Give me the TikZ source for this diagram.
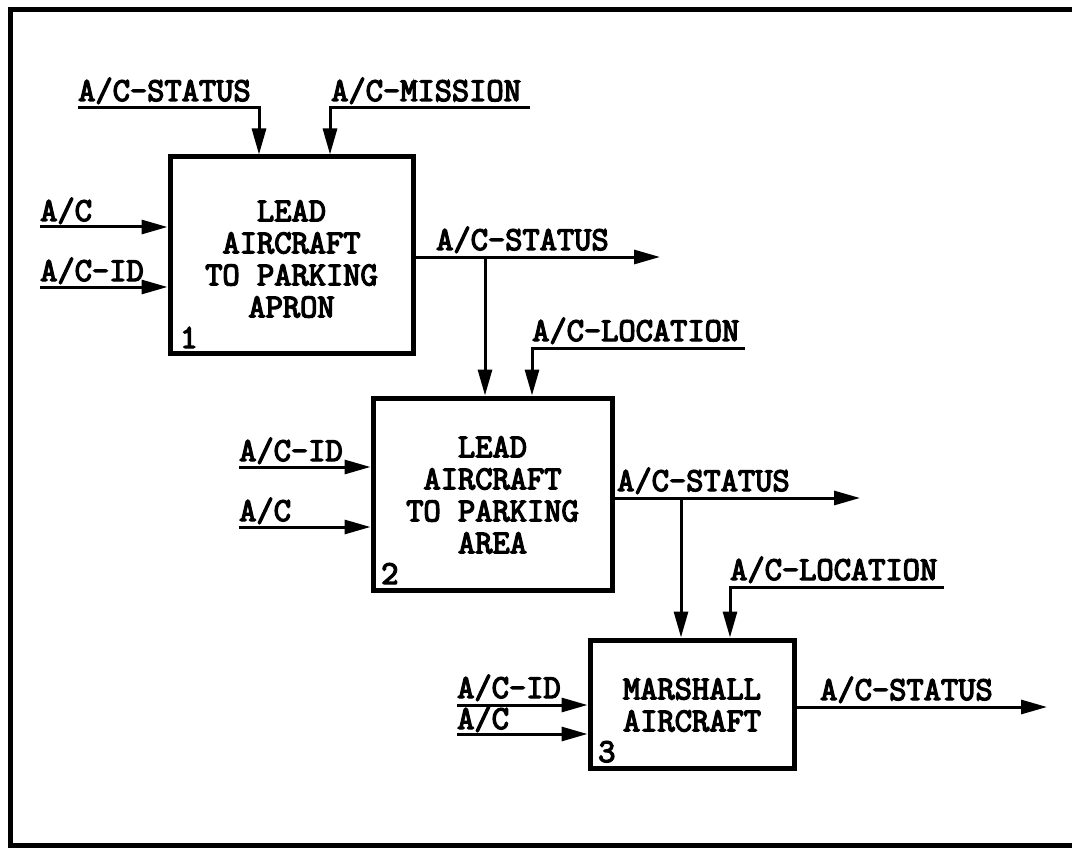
\documentclass[tikz,border=0pt]{standalone}
\usepackage{fontspec}
\newfontfamily\typew{Latin Modern Mono}[FakeBold=4]
\usetikzlibrary{arrows.meta}
\begin{document}
\begin{tikzpicture}[x=1pt,y=-1pt,
  lbl/.style={font=\typew\fontsize{33.5}{32}\selectfont, inner sep=0pt, anchor=base west},
  boxtxt/.style={font=\typew\fontsize{33.5}{32}\selectfont, align=center},
  fbox/.style={draw, line width=5pt, rectangle, inner sep=0pt},
  num/.style={font=\typew\fontsize{33.5}{32}\selectfont, inner sep=0pt, anchor=base west},
  arr/.style={line width=3pt, -{Triangle[length=26pt,width=14pt]}},
  frame/.style={line width=5pt, line cap=round}]
\useasboundingbox (0,0) rectangle (1072,848);
% frame
\coordinate (f1) at (1072,10);
\coordinate (f2) at (10,10);
\coordinate (f3) at (10,845);
\coordinate (f4) at (1072,845);
\draw[frame] (f1) -- (f2) -- (f3) -- (f4);

% boxes
\node[fbox, minimum width=243pt, minimum height=196pt] (b1) at (291.5,255) {};
\node[boxtxt] (t1) at (291.5,259) {LEAD\\AIRCRAFT\\TO PARKING\\APRON};
\node[num] (n1) at (180,348) {1};

\node[fbox, minimum width=239pt, minimum height=192pt] (b2) at (492.5,494) {};
\node[boxtxt] (t2) at (492.5,495) {LEAD\\AIRCRAFT\\TO PARKING\\AREA};
\node[num] (n2) at (381,584) {2};

\node[fbox, minimum width=204pt, minimum height=128pt] (b3) at (692,704) {};
\node[boxtxt] (t3) at (692,705) {MARSHALL\\AIRCRAFT};
\node[num] (n3) at (598,762) {3};

% ---- box 1 controls
\node[lbl] (l1s) at (78,101) {A/C-STATUS};
\coordinate (c1s) at (78,108);
\coordinate (x1s) at (259,0);
\draw[arr] (c1s) -| (b1.north -| x1s);
\node[lbl] (l1m) at (331,101) {A/C-MISSION};
\coordinate (c1m) at (530,108);
\coordinate (x1m) at (330,0);
\draw[arr] (c1m) -| (b1.north -| x1m);
% box 1 inputs
\node[lbl] (l1a) at (40,221) {A/C};
\coordinate (i1a) at (40,227);
\draw[arr] (i1a) -- (i1a -| b1.west);
\node[lbl] (l1i) at (40,281) {A/C-ID};
\coordinate (i1i) at (40,287);
\draw[arr] (i1i) -- (i1i -| b1.west);
% box 1 output
\coordinate (o1) at (660,257);
\node[lbl] (l1o) at (436,250) {A/C-STATUS};
\draw[arr] (o1 -| b1.east) -- (o1);
\coordinate (x2s) at (485,257);
\draw[arr] (x2s) -- (b2.north -| x2s);

% ---- box 2 control
\node[lbl] (l2l) at (532,341) {A/C-LOCATION};
\coordinate (c2l) at (745,348);
\coordinate (x2l) at (532,0);
\draw[arr] (c2l) -| (b2.north -| x2l);
% box 2 inputs
\node[lbl] (l2i) at (239,461) {A/C-ID};
\coordinate (i2i) at (239,467);
\draw[arr] (i2i) -- (i2i -| b2.west);
\node[lbl] (l2a) at (239,521) {A/C};
\coordinate (i2a) at (239,527);
\draw[arr] (i2a) -- (i2a -| b2.west);
% box 2 output
\coordinate (o2) at (860,498);
\node[lbl] (l2o) at (617,491) {A/C-STATUS};
\draw[arr] (o2 -| b2.east) -- (o2);
\coordinate (x3s) at (681,498);
\draw[arr] (x3s) -- (b3.north -| x3s);

% ---- box 3 control
\node[lbl] (l3l) at (730,580) {A/C-LOCATION};
\coordinate (c3l) at (944,587);
\coordinate (x3l) at (730,0);
\draw[arr] (c3l) -| (b3.north -| x3l);
% box 3 inputs
\node[lbl] (l3i) at (457,698) {A/C-ID};
\coordinate (i3i) at (457,705);
\draw[arr] (i3i) -- (i3i -| b3.west);
\node[lbl] (l3a) at (457,729) {A/C};
\coordinate (i3a) at (457,734);
\draw[arr] (i3a) -- (i3a -| b3.west);
% box 3 output
\coordinate (o3) at (1047,707);
\node[lbl] (l3o) at (820,700) {A/C-STATUS};
\draw[arr] (o3 -| b3.east) -- (o3);
\end{tikzpicture}
\end{document}
